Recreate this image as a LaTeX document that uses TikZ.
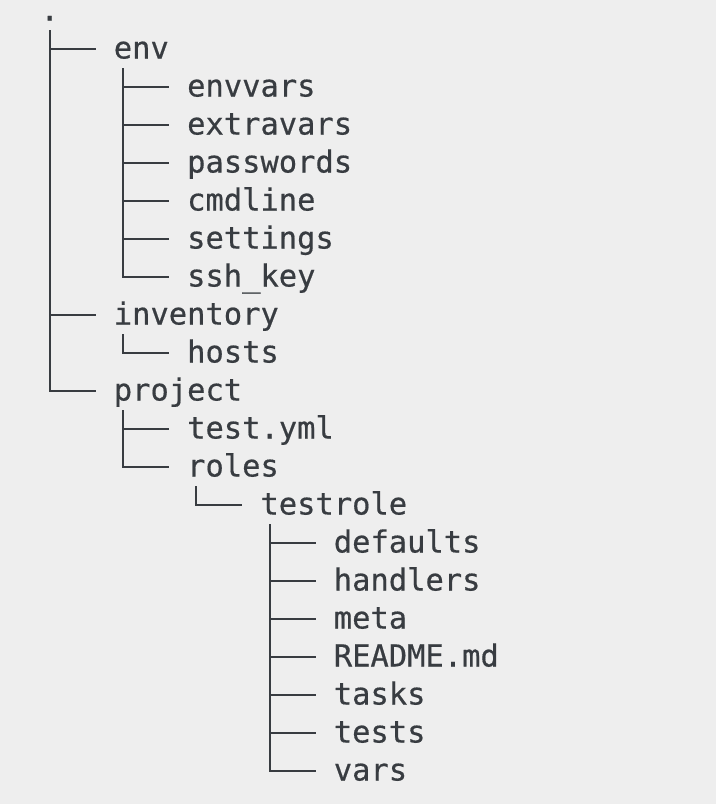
\documentclass[tikz,border=0pt]{standalone}
\usepackage{fontspec}
\setmonofont[FakeBold=0.5]{DejaVu Sans Mono}
\usetikzlibrary{calc}
\definecolor{bgc}{RGB}{238,238,238}
\definecolor{inkc}{RGB}{56,60,65}
\tikzset{
  item/.style={anchor=base west, inner sep=0pt, outer sep=0pt, text=inkc,
    font=\ttfamily\fontsize{30.45}{38}\selectfont},
  branch/.style={draw=inkc, line width=2.3pt},
}
\newcommand{\tbranch}[2]{\draw[branch] ($(#1.base west)+(9.17,9.5)$) |- ($(#2.base west)+(-18.33,-9.5)$);}
\begin{document}
\begin{tikzpicture}[x=1pt,y=-1pt]
\fill[bgc] (0,0) rectangle (716,804);
\useasboundingbox (0,0) rectangle (716,804);
% rows: baseline = 20.5 + 38 r ; column start = 40.5 + 73.33 level
\node[item] (root) at (40.5,20.5) {.};
\node[item] (env) at (113.83,58.5) {env};
\node[item] (envvars) at (187.17,96.5) {envvars};
\node[item] (extravars) at (187.17,134.5) {extravars};
\node[item] (passwords) at (187.17,172.5) {passwords};
\node[item] (cmdline) at (187.17,210.5) {cmdline};
\node[item] (settings) at (187.17,248.5) {settings};
\node[item] (sshkey) at (187.17,286.5) {ssh\_key};
\node[item] (inventory) at (113.83,324.5) {inventory};
\node[item] (hosts) at (187.17,362.5) {hosts};
\node[item] (project) at (113.83,400.5) {project};
\node[item] (testyml) at (187.17,438.5) {test.yml};
\node[item] (roles) at (187.17,476.5) {roles};
\node[item] (testrole) at (260.5,514.5) {testrole};
\node[item] (defaults) at (333.83,552.5) {defaults};
\node[item] (handlers) at (333.83,590.5) {handlers};
\node[item] (meta) at (333.83,628.5) {meta};
\node[item] (readme) at (333.83,666.5) {README.md};
\node[item] (tasks) at (333.83,704.5) {tasks};
\node[item] (tests) at (333.83,742.5) {tests};
\node[item] (vars) at (333.83,780.5) {vars};
% connectors
\tbranch{root}{env}
\tbranch{root}{inventory}
\tbranch{root}{project}
\tbranch{env}{envvars}
\tbranch{env}{extravars}
\tbranch{env}{passwords}
\tbranch{env}{cmdline}
\tbranch{env}{settings}
\tbranch{env}{sshkey}
\tbranch{inventory}{hosts}
\tbranch{project}{testyml}
\tbranch{project}{roles}
\tbranch{roles}{testrole}
\tbranch{testrole}{defaults}
\tbranch{testrole}{handlers}
\tbranch{testrole}{meta}
\tbranch{testrole}{readme}
\tbranch{testrole}{tasks}
\tbranch{testrole}{tests}
\tbranch{testrole}{vars}
\end{tikzpicture}
\end{document}
